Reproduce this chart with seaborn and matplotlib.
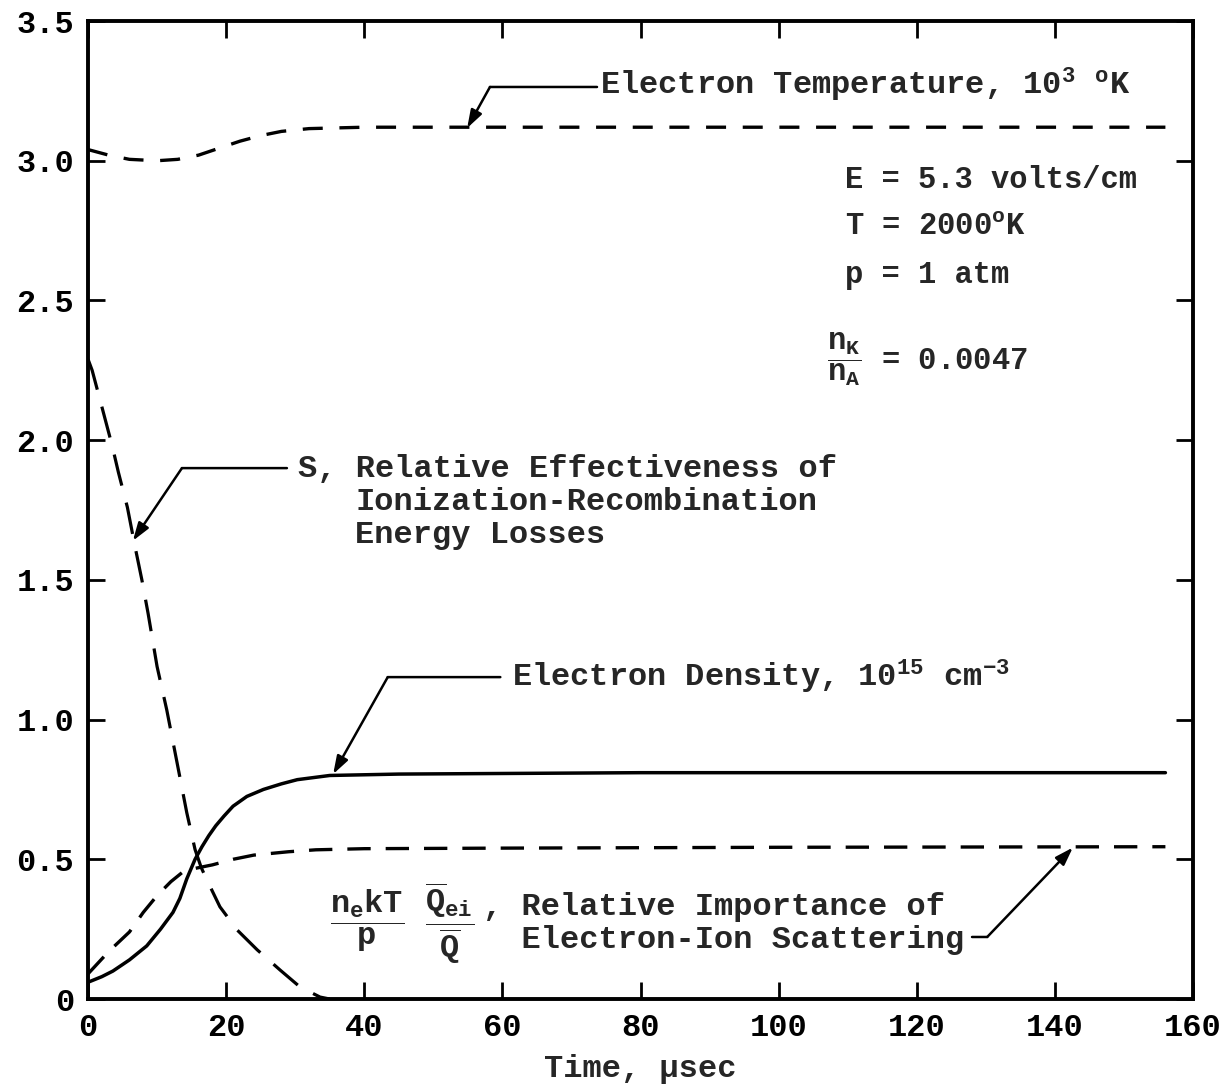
import matplotlib
matplotlib.use("Agg")
import matplotlib.pyplot as plt
import seaborn as sns
import numpy as np
import pandas as pd

# ---------------- data ----------------
temp_t = [0, 3, 6, 10, 13, 16, 19, 22, 25, 28, 32, 40, 80, 120, 156]
temp_v = [3.04, 3.02, 3.005, 3.0, 3.005, 3.02, 3.045, 3.07, 3.09, 3.105, 3.115, 3.12, 3.12, 3.12, 3.12]

dens_t = [0, 2, 3.6, 6, 8.5, 10.5, 12.3, 13.3, 14.3, 15.5, 16.5, 17.5, 18.5, 19.7, 21, 23, 25.4, 28, 30.3, 35, 45, 80, 120, 156]
dens_v = [0.06, 0.08, 0.10, 0.14, 0.19, 0.25, 0.31, 0.36, 0.43, 0.50, 0.545, 0.585, 0.62, 0.655, 0.69, 0.725, 0.75, 0.77, 0.785, 0.80, 0.805, 0.81, 0.81, 0.81]

s_t = [0, 0.6, 2, 3.5, 4.4, 5.7, 6.8, 7.8, 8.7, 10, 11.4, 12.9, 14.3, 15.5, 16.4, 17.2, 19.1, 21.6, 24.5, 27.8, 30.7, 33.6, 35]
s_v = [2.29, 2.25, 2.12, 1.98, 1.885, 1.76, 1.62, 1.50, 1.38, 1.19, 1.035, 0.845, 0.667, 0.535, 0.47, 0.427, 0.33, 0.247, 0.176, 0.104, 0.043, 0.007, 0.0]

ei_t = [0, 3, 6, 8, 10, 12, 14, 16, 18, 21, 24, 29, 33, 40, 60, 100, 156]
ei_v = [0.09, 0.17, 0.24, 0.31, 0.37, 0.42, 0.46, 0.47, 0.48, 0.50, 0.515, 0.527, 0.534, 0.538, 0.54, 0.543, 0.545]

x_ticks = [0, 20, 40, 60, 80, 100, 120, 140, 160]
x_ticklabels = ["0", "20", "40", "60", "80", "100", "120", "140", "160"]
y_ticks = [0, 0.5, 1.0, 1.5, 2.0, 2.5, 3.0, 3.5]
y_ticklabels = ["0", "0.5", "1.0", "1.5", "2.0", "2.5", "3.0", "3.5"]

# ---------------- style ----------------
sns.set_theme(style="ticks")
plt.rcParams["font.family"] = ["Liberation Mono", "DejaVu Sans"]
plt.rcParams["font.weight"] = "bold"
plt.rcParams["mathtext.fontset"] = "custom"
plt.rcParams["mathtext.rm"] = "Liberation Mono:bold"
plt.rcParams["mathtext.it"] = "Liberation Mono:bold"
plt.rcParams["mathtext.bf"] = "Liberation Mono:bold"
plt.rcParams["mathtext.sf"] = "Liberation Mono:bold"
plt.rcParams["mathtext.default"] = "rm"

FS = 23
FSP = 22
fig = plt.figure(figsize=(12.24, 10.84), dpi=100)
ax = fig.add_axes([0.0719, 0.0784, 0.9028, 0.9022])

lw = 2.5
sns.lineplot(x=temp_t, y=temp_v, ax=ax, color="black", lw=2.4, linestyle=(0, (6, 5)), sort=False)
sns.lineplot(x=dens_t, y=dens_v, ax=ax, color="black", lw=lw, sort=False)
sns.lineplot(x=s_t, y=s_v, ax=ax, color="black", lw=2.3, linestyle=(0, (10, 5.5)), sort=False)
sns.lineplot(x=ei_t, y=ei_v, ax=ax, color="black", lw=2.4, linestyle=(0, (7, 4.5)), sort=False)

ax.set_xlim(0, 160)
ax.set_ylim(0, 3.5)
ax.set_xticks(x_ticks)
ax.set_xticklabels(x_ticklabels, fontsize=FS, fontweight="bold")
ax.set_yticks(y_ticks)
ax.set_yticklabels(y_ticklabels, fontsize=FS, fontweight="bold")
ax.tick_params(direction="in", length=12, width=2, top=True, right=True, pad=10, colors="black")
for sp in ax.spines.values():
    sp.set_visible(True)
    sp.set_linewidth(2.8)
    sp.set_color("black")
ax.set_xlabel("Time, µsec", fontsize=FS, fontweight="bold", labelpad=8)
ax.set_ylabel("")

arrow_kw = dict(arrowstyle="-|>,head_length=0.9,head_width=0.3", color="black", lw=1.8,
                shrinkA=0, shrinkB=0)
line_kw = dict(arrowstyle="-", color="black", lw=1.8, shrinkA=0, shrinkB=0)

def leader(x_start, x_corner, y_line, head):
    ax.annotate("", xy=(x_corner, y_line), xytext=(x_start, y_line), arrowprops=line_kw)
    ax.annotate("", xy=head, xytext=(x_corner, y_line), arrowprops=arrow_kw)

# Electron temperature
ax.text(74.1, 3.235, r"Electron Temperature, 10$^{3}$ $^{o}$K", fontsize=FS, fontweight="bold",
        ha="left", va="baseline")
leader(73.7, 58.2, 3.264, (54.9, 3.117))

# Parameters
ax.text(109.6, 2.903, "E = 5.3 volts/cm", fontsize=FSP, fontweight="bold", ha="left", va="baseline")
ax.text(109.6, 2.734, r"T = 2000$^{o}$K", fontsize=FSP, fontweight="bold", ha="left", va="baseline")
ax.text(109.6, 2.563, "p = 1 atm", fontsize=FSP, fontweight="bold", ha="left", va="baseline")
ax.text(107.0, 2.251, r"$\dfrac{n_K}{n_A}$ = 0.0047", fontsize=FSP, fontweight="bold", ha="left", va="baseline")

# S
ax.text(30.4, 1.868, "S, Relative Effectiveness of", fontsize=FS, fontweight="bold", ha="left", va="baseline")
ax.text(38.7, 1.750, "Ionization-Recombination", fontsize=FS, fontweight="bold", ha="left", va="baseline")
ax.text(38.7, 1.632, "Energy Losses", fontsize=FS, fontweight="bold", ha="left", va="baseline")
leader(28.8, 13.6, 1.900, (6.5, 1.640))

# Electron density
ax.text(61.4, 1.117, r"Electron Density, 10$^{15}$ cm$^{-3}$", fontsize=FS, fontweight="bold",
        ha="left", va="baseline")
leader(59.7, 43.4, 1.152, (35.5, 0.805))

# Electron-ion
ax.text(35.0, 0.233, r"$\dfrac{n_e kT}{p}$", fontsize=FS, fontweight="bold", ha="left", va="baseline")
ax.text(48.8, 0.233, r"$\dfrac{\overline{Q}_{ei}}{\overline{Q}}$", fontsize=FS, fontweight="bold",
        ha="left", va="baseline")
ax.text(57.2, 0.300, ", Relative Importance of", fontsize=FS, fontweight="bold", ha="left", va="baseline")
ax.text(57.2, 0.182, "  Electron-Ion Scattering", fontsize=FS, fontweight="bold", ha="left", va="baseline")
leader(128.0, 130.2, 0.222, (142.6, 0.542))

fig.savefig("out.png", dpi=100, facecolor="white")
